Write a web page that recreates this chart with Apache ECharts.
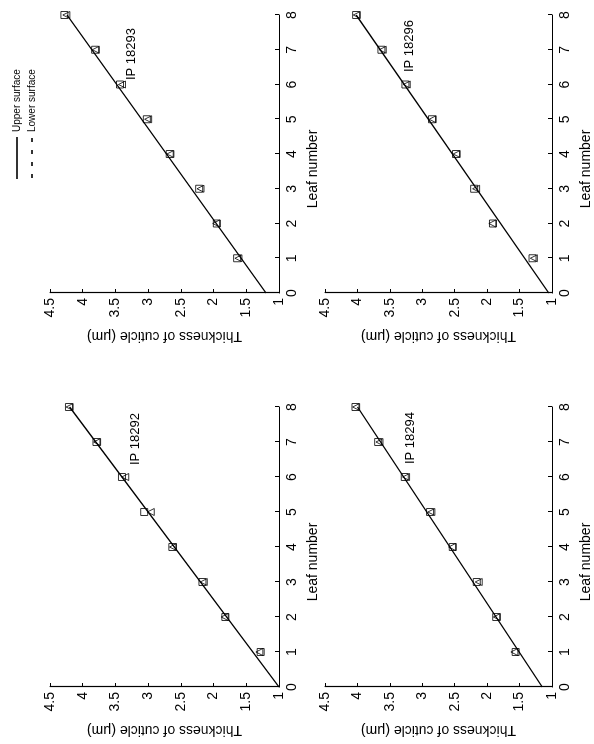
<!DOCTYPE html>
<html>
<head>
<meta charset="utf-8">
<script src="https://cdn.jsdelivr.net/npm/echarts@6/dist/echarts.min.js"></script>
<style>
  html, body { margin: 0; padding: 0; background: #fff; overflow: hidden; }
  /* the figure is printed on its side: draw it upright, then turn it */
  #chart {
    position: absolute; left: 0; top: 0;
    width: 744px; height: 594px;
    transform-origin: 0 0;
    transform: translateY(744px) rotate(-90deg);
  }
</style>
</head>
<body>
<div id="chart"></div>
<script>
var leaves = [1, 2, 3, 4, 5, 6, 7, 8]
var fitLeaves = [0, 8]

// IP 18292
var upper18292 = [1.28, 1.82, 2.17, 2.63, 3.06, 3.40, 3.79, 4.21]
var lower18292 = [1.30, 1.83, 2.15, 2.62, 2.96, 3.35, 3.78, 4.20]
var fit18292 = [1.0, 4.2]
// IP 18293
var upper18293 = [1.64, 1.95, 2.22, 2.67, 3.02, 3.43, 3.81, 4.28]
var lower18293 = [1.62, 1.96, 2.20, 2.66, 3.00, 3.40, 3.80, 4.25]
var fit18293 = [1.2, 4.24]
// IP 18294
var upper18294 = [1.56, 1.86, 2.16, 2.53, 2.88, 3.27, 3.68, 4.03]
var lower18294 = [1.58, 1.85, 2.13, 2.54, 2.86, 3.25, 3.66, 4.02]
var fit18294 = [1.15, 4.0]
// IP 18296
var upper18296 = [1.30, 1.91, 2.20, 2.48, 2.85, 3.26, 3.63, 4.02]
var lower18296 = [1.28, 1.92, 2.17, 2.47, 2.84, 3.24, 3.61, 4.01]
var fit18296 = [1.05, 4.02]

var panelNames = ['IP 18292', 'IP 18293', 'IP 18294', 'IP 18296']
var uppers = [upper18292, upper18293, upper18294, upper18296]
var lowers = [lower18292, lower18293, lower18294, lower18296]
var fits = [fit18292, fit18293, fit18294, fit18296]

var font = 'Liberation Sans, Arial, Helvetica, sans-serif'

function pairs(xs, ys) {
  return xs.map(function (x, i) { return [x, ys[i]] })
}

var grids = [
  { left: 57, top: 50, width: 280, height: 229 },
  { left: 451, top: 50, width: 278, height: 229 },
  { left: 57, top: 325, width: 280, height: 230 },
  { left: 451, top: 325, width: 278, height: 230 }
]
var titlePos = [
  { right: 408, top: 124 },
  { right: 23, top: 120 },
  { right: 407, top: 399 },
  { right: 15, top: 398 }
]

var xAxes = [], yAxes = [], series = [], titles = []
for (var i = 0; i < 4; i++) {
  xAxes.push({
    gridIndex: i,
    type: 'value',
    min: 0,
    max: 8,
    interval: 1,
    name: 'Leaf number',
    nameLocation: 'middle',
    nameGap: 27,
    nameTextStyle: { fontFamily: font, fontSize: 14, color: '#000', padding: [0, 30, 0, 0] },
    axisLine: { lineStyle: { color: '#000', width: 1.2 } },
    axisTick: { inside: true, length: 4, lineStyle: { color: '#000' } },
    axisLabel: { fontFamily: font, fontSize: 14, color: '#000', margin: 6 },
    splitLine: { show: false }
  })
  yAxes.push({
    gridIndex: i,
    type: 'value',
    min: 1,
    max: 4.5,
    interval: 0.5,
    name: 'Thickness of cuticle (\u03bcm)',
    nameLocation: 'middle',
    nameGap: 36,
    nameTextStyle: { fontFamily: font, fontSize: 14, color: '#000' },
    axisLine: { show: true, lineStyle: { color: '#000', width: 1.2 } },
    axisTick: { show: true, inside: true, length: 4, lineStyle: { color: '#000' } },
    axisLabel: { fontFamily: font, fontSize: 14, color: '#000', margin: 5 },
    splitLine: { show: false }
  })
  titles.push({
    text: panelNames[i],
    right: titlePos[i].right,
    top: titlePos[i].top,
    textStyle: { fontFamily: font, fontSize: 13, fontWeight: 'normal', color: '#000' }
  })
  series.push({
    name: 'Fit',
    type: 'line',
    xAxisIndex: i,
    yAxisIndex: i,
    data: pairs(fitLeaves, fits[i]),
    symbol: 'none',
    lineStyle: { color: '#000', width: 1.3 },
    z: 3
  })
  series.push({
    name: 'Upper surface',
    type: 'scatter',
    xAxisIndex: i,
    yAxisIndex: i,
    data: pairs(leaves, uppers[i]),
    symbol: 'rect',
    symbolSize: 7,
    itemStyle: { color: 'rgba(255,255,255,0)', borderColor: '#000', borderWidth: 1 },
    z: 4
  })
  series.push({
    name: 'Lower surface',
    type: 'scatter',
    xAxisIndex: i,
    yAxisIndex: i,
    data: pairs(leaves, lowers[i]),
    symbol: 'triangle',
    symbolSize: 7,
    itemStyle: { color: 'rgba(255,255,255,0)', borderColor: '#000', borderWidth: 1 },
    z: 4
  })
}

var chart = echarts.init(document.getElementById('chart'), null, { renderer: 'canvas' })
chart.setOption({
  animation: false,
  backgroundColor: '#fff',
  title: titles,
  legend: {
    orient: 'vertical',
    left: 560,
    top: 7,
    itemGap: 5,
    itemWidth: 42,
    itemHeight: 2,
    textStyle: { fontFamily: font, fontSize: 10, color: '#000' },
    data: [
      { name: 'Upper surface', icon: 'rect', itemStyle: { color: '#000', borderWidth: 0 } },
      { name: 'Lower surface', icon: 'path://M0,0h2v1h-2zM6,0h2v1h-2zM12,0h2v1h-2zM18,0h2v1h-2z', itemStyle: { color: '#000', borderWidth: 0 } }
    ],
    selectedMode: false
  },
  grid: grids,
  xAxis: xAxes,
  yAxis: yAxes,
  series: series
})
</script>
</body>
</html>
